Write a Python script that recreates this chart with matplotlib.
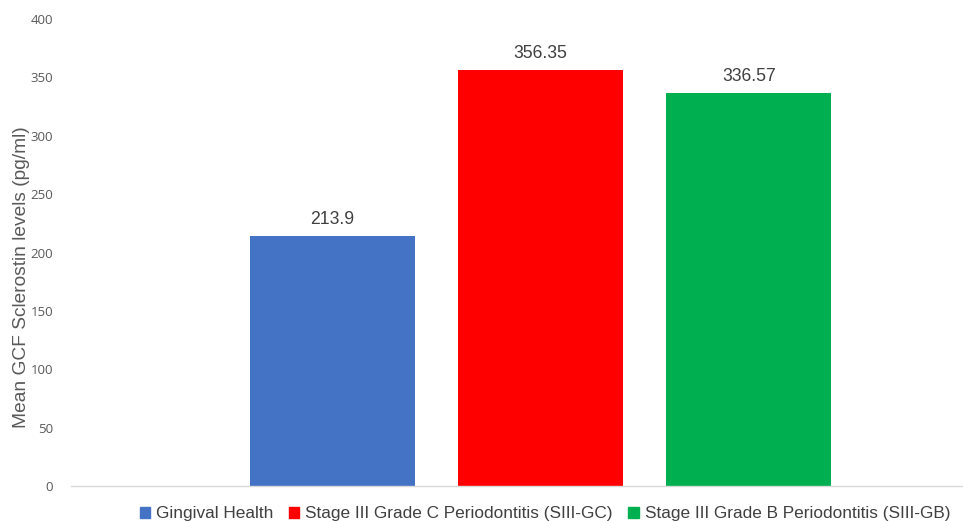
import matplotlib.pyplot as plt
from matplotlib.patches import Patch

# data
groups = ['Gingival Health',
          'Stage III Grade C Periodontitis (SIII-GC)',
          'Stage III Grade B Periodontitis (SIII-GB)']
means = [213.9, 356.35, 336.57]
labels = ['213.9', '356.35', '336.57']
colors = ['#4472C4', '#FF0000', '#00B050']
yticks = [0, 50, 100, 150, 200, 250, 300, 350, 400]

fig = plt.figure(figsize=(9.63, 5.21), dpi=100)
ax = fig.add_axes([71 / 963, 35 / 521, 892 / 963, 467 / 521])

xpos = list(range(len(means)))
ax.bar(xpos, means, width=0.79, color=colors, zorder=2)

for x, v, t in zip(xpos, means, labels):
    ax.text(x, v + 7, t, ha='center', va='bottom', fontsize=12.7,
            family='Liberation Sans', color='#404040')

ax.set_xlim(-1.257, 3.03)
ax.set_ylim(0, 400)
ax.set_yticks(yticks)
ax.set_yticklabels([str(t) for t in yticks], family='Open Sans', fontsize=9.5, color='#595959')
ax.tick_params(axis='y', length=0, pad=13)
ax.set_xticks([])

for s in ['top', 'right', 'left']:
    ax.spines[s].set_visible(False)
ax.spines['bottom'].set_color('#D9D9D9')
ax.spines['bottom'].set_linewidth(1)

ax.set_ylabel('Mean GCF Sclerostin levels (pg/ml)', fontsize=13.8,
              family='Liberation Sans', color='#595959')
ax.yaxis.set_label_coords(-0.046, 0.447)

handles = [Patch(color=c, label=g) for c, g in zip(colors, groups)]
fig.legend(handles=handles, loc='lower center', bbox_to_anchor=(545 / 963, -0.03),
           ncol=3, frameon=False, handlelength=0.6, handleheight=0.6,
           handletextpad=0.35, columnspacing=0.9,
           prop={'family': 'Liberation Sans', 'size': 12.4}, labelcolor='#404040')

plt.savefig('out.png', dpi=100)
